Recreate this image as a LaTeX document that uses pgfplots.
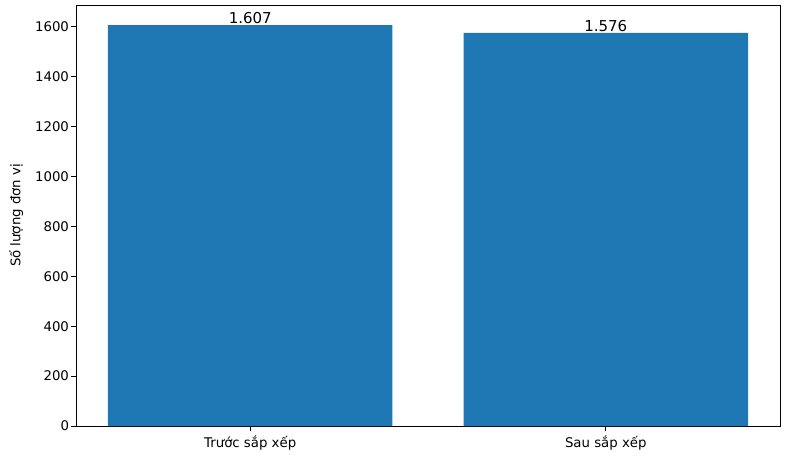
\documentclass[border=0pt]{standalone}
\usepackage{pgfplots}
\pgfplotsset{compat=1.18}
\usepackage{fontspec}
\setmainfont{DejaVu Sans}
\definecolor{mplblue}{HTML}{1F77B4}
\begin{document}
\begin{tikzpicture}
\begin{axis}[
  scale only axis,
  width=704pt, height=421pt,
  xmin=-0.49, xmax=1.49,
  ymin=0, ymax=1687.35,
  xtick={0,1},
  xticklabels={Trước sắp xếp, Sau sắp xếp},
  ytick={0,200,400,600,800,1000,1200,1400,1600},
  tick align=outside,
  tick pos=left,
  major tick length=4.5pt,
  tick style={black, line width=0.8pt},
  axis line style={line width=0.8pt},
  ticklabel style={font=\fontsize{13.3}{15}\selectfont},
  xticklabel style={yshift=-1.5pt},
  yticklabel style={xshift=1pt},
  /pgf/number format/assume math mode=true,
  /pgf/number format/1000 sep={},
  ylabel={Số lượng đơn vị},
  ylabel style={font=\fontsize{13.3}{15}\selectfont, yshift=5pt},
  ybar, bar width=0.8,
  nodes near coords,
  nodes near coords style={font=\fontsize{15}{17}\selectfont, black, inner sep=0pt, anchor=south, yshift=1pt},
  point meta=explicit symbolic,
]
\addplot[fill=mplblue, draw=none] coordinates {(0,1607)[1.607] (1,1576)[1.576]};
\end{axis}
\pgfresetboundingbox
\path[use as bounding box] ([shift={(-76pt,-35pt)}]current axis.south west) rectangle ([shift={(9pt,5pt)}]current axis.north east);
\end{tikzpicture}
\end{document}
